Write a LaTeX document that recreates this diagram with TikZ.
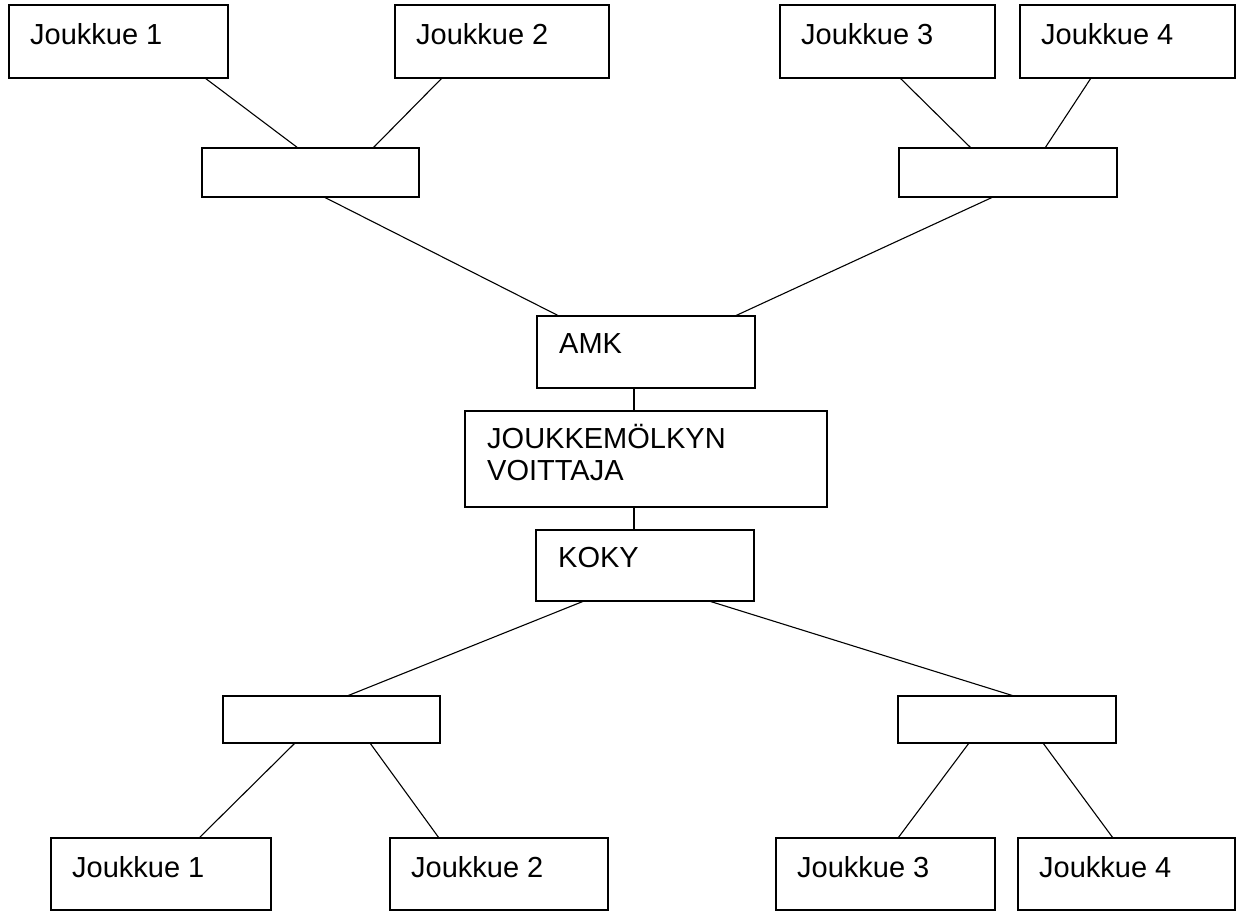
\documentclass[tikz,border=0pt]{standalone}
\usepackage{fontspec}
\setmainfont{Liberation Sans}
\begin{document}
\begin{tikzpicture}[x=1pt,y=-1pt,
  box/.style={draw=black, line width=1.5pt, rectangle, inner sep=0pt, outer sep=0pt, anchor=north west},
  link/.style={draw=black, line width=1.1pt},
  every label/.style={anchor=base west, inner sep=0pt, font=\fontsize{29}{33}\selectfont, text=black},
  txt/.style={label={[xshift=21pt, yshift=-39pt]north west:#1}}
]
\useasboundingbox (0,0) rectangle (1238,914);
\fill[white] (0,0) rectangle (1238,914);

% top row
\node[box, minimum width=219pt, minimum height=73pt, txt={Joukkue 1}] (tJ1) at (9,5) {};
\node[box, minimum width=214pt, minimum height=73pt, txt={Joukkue 2}] (tJ2) at (395,5) {};
\node[box, minimum width=215pt, minimum height=73pt, txt={Joukkue 3}] (tJ3) at (780,5) {};
\node[box, minimum width=215pt, minimum height=73pt, txt={Joukkue 4}] (tJ4) at (1020,5) {};

% top empty boxes
\node[box, minimum width=217pt, minimum height=49pt] (tL) at (202,148) {};
\node[box, minimum width=218pt, minimum height=49pt] (tR) at (899,148) {};

% centre
\node[box, minimum width=218pt, minimum height=72pt,
  label={[xshift=22pt, yshift=-37pt]north west:AMK}] (AMK) at (537,316) {};
\node[box, minimum width=362pt, minimum height=96pt,
  label={[xshift=22pt, yshift=-37pt]north west:JOUKKEMÖLKYN},
  label={[xshift=22pt, yshift=-69pt]north west:VOITTAJA}] (JV) at (465,411) {};
\node[box, minimum width=218pt, minimum height=71pt,
  label={[xshift=22pt, yshift=-37pt]north west:KOKY}] (KOKY) at (536,530) {};

% bottom empty boxes
\node[box, minimum width=217pt, minimum height=47pt] (bL) at (223,696) {};
\node[box, minimum width=218pt, minimum height=47pt] (bR) at (898,696) {};

% bottom row
\node[box, minimum width=220pt, minimum height=72pt, txt={Joukkue 1}] (bJ1) at (51,838) {};
\node[box, minimum width=218pt, minimum height=72pt, txt={Joukkue 2}] (bJ2) at (390,838) {};
\node[box, minimum width=219pt, minimum height=72pt, txt={Joukkue 3}] (bJ3) at (776,838) {};
\node[box, minimum width=217pt, minimum height=72pt, txt={Joukkue 4}] (bJ4) at (1018,838) {};

% connectors
\draw[link] ([xshift=196pt]tJ1.south west) -- ([xshift=96pt]tL.north west);
\draw[link] ([xshift=47pt]tJ2.south west) -- ([xshift=171pt]tL.north west);
\draw[link] ([xshift=120pt]tJ3.south west) -- ([xshift=72pt]tR.north west);
\draw[link] ([xshift=71pt]tJ4.south west) -- ([xshift=146pt]tR.north west);
\draw[link] ([xshift=122pt]tL.south west) -- ([xshift=22pt]AMK.north west);
\draw[link] ([xshift=94pt]tR.south west) -- ([xshift=198pt]AMK.north west);
\draw[link] ([xshift=97pt]AMK.south west) -- ([xshift=169pt]JV.north west);
\draw[link] ([xshift=169pt]JV.south west) -- ([xshift=98pt]KOKY.north west);
\draw[link] ([xshift=48pt]KOKY.south west) -- ([xshift=124pt]bL.north west);
\draw[link] ([xshift=173pt]KOKY.south west) -- ([xshift=116pt]bR.north west);
\draw[link] ([xshift=72pt]bL.south west) -- ([xshift=148pt]bJ1.north west);
\draw[link] ([xshift=147pt]bL.south west) -- ([xshift=49pt]bJ2.north west);
\draw[link] ([xshift=71pt]bR.south west) -- ([xshift=122pt]bJ3.north west);
\draw[link] ([xshift=145pt]bR.south west) -- ([xshift=95pt]bJ4.north west);
\end{tikzpicture}
\end{document}
